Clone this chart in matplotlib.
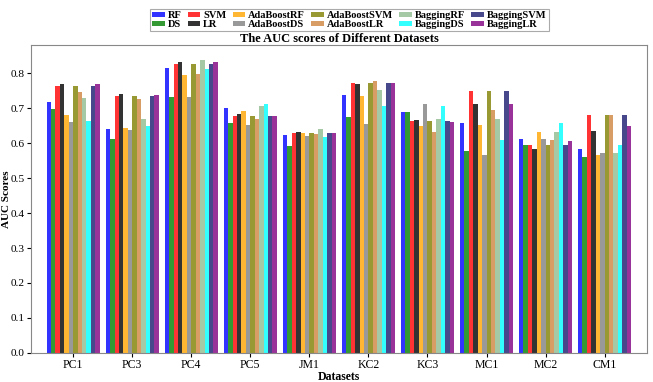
import numpy as np
import matplotlib
matplotlib.use("Agg")
import matplotlib.pyplot as plt

datasets = ["PC1", "PC3", "PC4", "PC5", "JM1", "KC2", "KC3", "MC1", "MC2", "CM1"]
methods = ["RF", "DS", "SVM", "LR", "AdaBoostRF", "AdaBoostDS", "AdaBoostSVM",
           "AdaBoostLR", "BaggingRF", "BaggingDS", "BaggingSVM", "BaggingLR"]

RF          = [0.716, 0.640, 0.815, 0.700, 0.624, 0.738, 0.690, 0.657, 0.612, 0.584]
DS          = [0.696, 0.612, 0.732, 0.658, 0.591, 0.675, 0.688, 0.578, 0.593, 0.560]
SVM         = [0.763, 0.735, 0.826, 0.678, 0.630, 0.772, 0.664, 0.750, 0.593, 0.681]
LR          = [0.770, 0.740, 0.831, 0.684, 0.631, 0.769, 0.667, 0.713, 0.583, 0.634]
AdaBoostRF  = [0.681, 0.643, 0.794, 0.693, 0.629, 0.734, 0.648, 0.652, 0.632, 0.565]
AdaBoostDS  = [0.660, 0.637, 0.733, 0.652, 0.621, 0.654, 0.712, 0.566, 0.611, 0.571]
AdaBoostSVM = [0.763, 0.734, 0.825, 0.678, 0.629, 0.772, 0.664, 0.750, 0.593, 0.681]
AdaBoostLR  = [0.746, 0.727, 0.796, 0.669, 0.625, 0.776, 0.631, 0.694, 0.610, 0.681]
BaggingRF   = [0.728, 0.670, 0.837, 0.707, 0.639, 0.751, 0.670, 0.669, 0.631, 0.571]
BaggingDS   = [0.664, 0.649, 0.812, 0.711, 0.618, 0.706, 0.707, 0.610, 0.657, 0.593]
BaggingSVM  = [0.763, 0.735, 0.826, 0.678, 0.629, 0.772, 0.664, 0.750, 0.593, 0.681]
BaggingLR   = [0.770, 0.736, 0.833, 0.678, 0.630, 0.772, 0.660, 0.713, 0.607, 0.650]

series = [RF, DS, SVM, LR, AdaBoostRF, AdaBoostDS, AdaBoostSVM, AdaBoostLR,
          BaggingRF, BaggingDS, BaggingSVM, BaggingLR]
colors = ["blue", "green", "red", "black", "orange", "gray", "olive", "peru",
          "darkseagreen", "cyan", "midnightblue", "purple"]

plt.rcParams["font.family"] = ["Liberation Serif", "DejaVu Serif"]

fig = plt.figure(figsize=(6.53, 3.82), dpi=100)
ax = fig.add_axes([0.047, 0.076, 0.944, 0.806])

x = np.arange(len(datasets))
w = 0.075
n = len(series)
for i, (vals, c, m) in enumerate(zip(series, colors, methods)):
    ax.bar(x + (i - (n - 1) / 2) * w, vals, width=w, color=c, alpha=0.8, label=m)

ax.set_xlim(-0.72, len(datasets) - 1 + 0.72)
ax.set_ylim(0, 0.88)
ax.set_yticks(np.arange(0, 0.81, 0.1))
ax.set_yticklabels([f"{v:.1f}" for v in np.arange(0, 0.81, 0.1)])
ax.set_xticks(x)
ax.set_xticklabels(datasets)
ax.tick_params(labelsize=8.5, length=3, width=0.8, pad=1.5)
ax.tick_params(axis="y", labelsize=8.2, pad=1.2)
for s in ax.spines.values():
    s.set_color("#888888")
ax.set_xlabel("Datasets", fontsize=8.5, fontweight="bold", labelpad=0)
ax.set_ylabel("AUC Scores", fontsize=8, fontweight="bold")
ax.yaxis.set_label_coords(-0.0315, 0.5)
ax.set_title("The AUC scores of Different Datasets", fontsize=9, fontweight="bold", pad=1)

leg = fig.legend(loc="upper right", bbox_to_anchor=(0.848, 0.99), ncol=6,
                 prop={"size": 7.5, "weight": "bold"}, handlelength=1.2, handleheight=0.45,
                 handletextpad=0.3, columnspacing=0.6, labelspacing=0.0,
                 borderpad=0.2, fancybox=False, edgecolor="#aaaaaa", framealpha=1)
leg.get_frame().set_linewidth(0.8)

fig.savefig("out.png", dpi=100)
